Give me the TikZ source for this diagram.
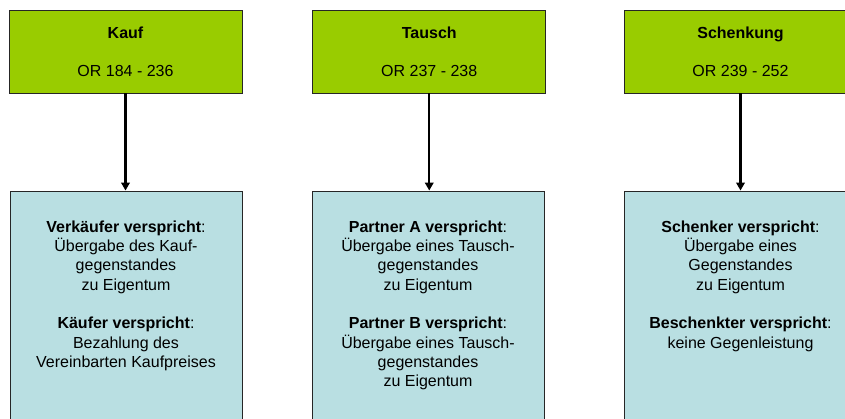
\documentclass[tikz,border=0pt]{standalone}
\usepackage{fontspec}
\setmainfont{Liberation Sans}
\usetikzlibrary{arrows.meta}
\definecolor{topgreen}{HTML}{99CC00}
\definecolor{botblue}{HTML}{B9DFE2}
\begin{document}
\begin{tikzpicture}[x=1pt,y=-1pt,
  headbox/.style={draw=black!85,line width=0.9pt,fill=topgreen,minimum width=233pt,minimum height=83pt,inner sep=0pt,align=center,font=\fontsize{16}{19.3}\selectfont},
  bodybox/.style={draw=black!85,line width=0.9pt,fill=botblue,minimum width=232pt,minimum height=249pt,inner sep=0pt},
  bodytext/.style={anchor=north,inner sep=0pt,align=center,font=\fontsize{16}{19.3}\selectfont},
  conn/.style={line width=2.4pt,-{Triangle[length=8pt,width=8.5pt]}}]
\useasboundingbox (0,0) rectangle (845,418);
\clip (0,0) rectangle (845,418);
\fill[white] (0,0) rectangle (845,418);
% top boxes
\node[headbox] (kauf) at (125.5,51.5) {\textbf{Kauf}\\[18.7pt]OR 184 - 236};
\node[headbox] (tausch) at (429.25,51.5) {\textbf{Tausch}\\[18.7pt]OR 237 - 238};
\node[headbox] (schenk) at (740.5,51.5) {\textbf{Schenkung}\\[18.7pt]OR 239 - 252};
% bottom boxes
\node[bodybox] (kaufb) at (126,315.5) {};
\node[bodybox] (tauschb) at (428,315.5) {};
\node[bodybox,minimum width=233pt] (schenkb) at (740.5,315.5) {};
% texts
\node[bodytext] (kauft) at (126,220.5) {\textbf{Verkäufer verspricht}:\\Übergabe des Kauf-\\gegenstandes\\ zu Eigentum\\[19.3pt]\textbf{Käufer verspricht}:\\Bezahlung des\\Vereinbarten Kaufpreises};
\node[bodytext] (tauscht) at (428,220.5) {\textbf{Partner A verspricht}:\\Übergabe eines Tausch-\\gegenstandes\\ zu Eigentum\\[19.3pt]\textbf{Partner B verspricht}:\\Übergabe eines Tausch-\\gegenstandes\\zu Eigentum};
\node[bodytext] (schenkt) at (740.5,220.5) {\textbf{Schenker verspricht}:\\Übergabe eines\\Gegenstandes\\ zu Eigentum\\[19.3pt]\textbf{Beschenkter verspricht}:\\keine Gegenleistung};
% connectors
\draw[conn] (kauf.south) -- (kaufb.north -| kauf.south);
\draw[conn] (tausch.south) -- (tauschb.north -| tausch.south);
\draw[conn] (schenk.south) -- (schenkb.north -| schenk.south);
\end{tikzpicture}
\end{document}
